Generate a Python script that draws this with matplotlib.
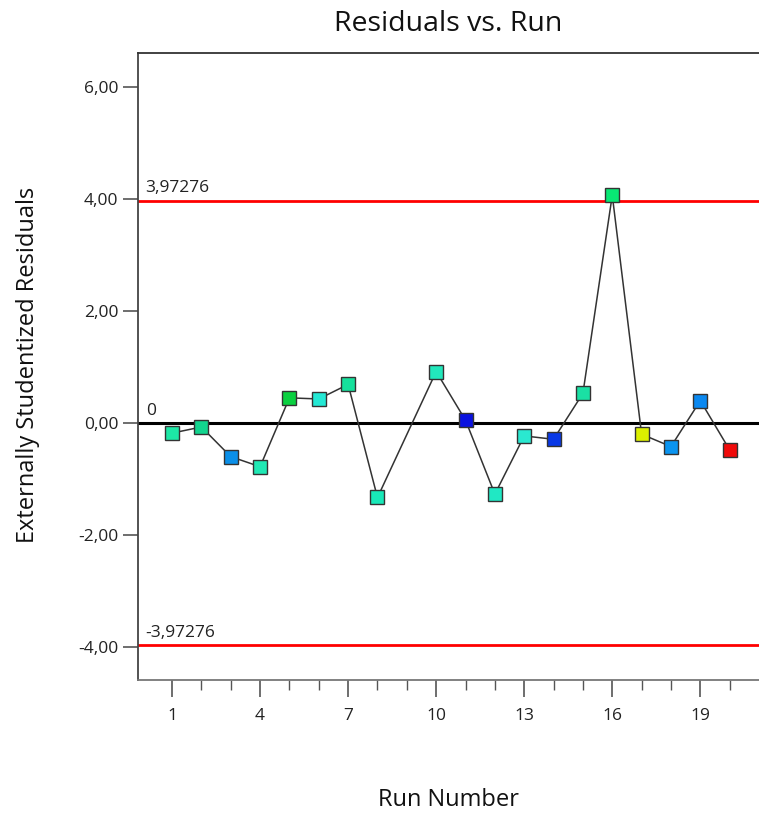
import matplotlib
matplotlib.use("Agg")
import matplotlib.pyplot as plt
from matplotlib.ticker import FixedLocator

plt.rcParams['font.family'] = ['Open Sans', 'DejaVu Sans']

runs = [1, 2, 3, 4, 5, 6, 7, 8, 10, 11, 12, 13, 14, 15, 16, 17, 18, 19, 20]
residuals = [-0.18, -0.07, -0.60, -0.78, 0.45, 0.43, 0.69, -1.33, 0.92, 0.05,
             -1.27, -0.23, -0.29, 0.53, 4.07, -0.20, -0.42, 0.40, -0.48]
colors = ['#1de8a6', '#12d48e', '#0a8fe8', '#20e8b4', '#0ad040', '#24e8d4',
          '#16e09c', '#18e8b8', '#22e8bc', '#0a12e0', '#20e8c4', '#2ae8d0',
          '#0838e6', '#1ae0a4', '#08e874', '#dcf000', '#0a94f0', '#0a88f0',
          '#f00a0a']
limit = 3.97276
limit_labels = ['3,97276', '0', '-3,97276']
yticks = [-4, -2, 0, 2, 4, 6]
ytick_labels = ['-4,00', '-2,00', '0,00', '2,00', '4,00', '6,00']
xticks = [1, 4, 7, 10, 13, 16, 19]

fig = plt.figure(figsize=(7.59, 8.14), dpi=100)
ax = fig.add_axes([138/759, 1-680/814, 1-138/759, (680-53)/814])

ax.axhline(limit, color='#ff0000', lw=2, zorder=1)
ax.axhline(-limit, color='#ff0000', lw=2, zorder=1)
ax.axhline(0, color='black', lw=2.2, zorder=1)

ax.plot(runs, residuals, color='#333333', lw=1.1, zorder=2)
for xv, yv, c in zip(runs, residuals, colors):
    ax.plot([xv], [yv], marker='s', ms=10, mfc=c, mec='#333333', mew=1.0,
            ls='none', zorder=3)

for yv, lab in zip([limit, 0, -limit], limit_labels):
    ax.text(0.1, yv + 0.08, lab, fontsize=12.5, color='#222222',
            ha='left', va='bottom')

ax.set_xlim(-0.16, 21.0)
ax.set_ylim(-4.59, 6.61)

ax.yaxis.set_major_locator(FixedLocator(yticks))
ax.set_yticklabels(ytick_labels)
ax.xaxis.set_major_locator(FixedLocator(xticks))
ax.set_xticklabels([str(v) for v in xticks])
ax.xaxis.set_minor_locator(FixedLocator(list(range(1, 21))))

ax.tick_params(axis='y', which='major', length=11, width=1.2, color='#555555',
               labelsize=12.5, labelcolor='#222222', pad=3)
ax.tick_params(axis='x', which='major', length=12, width=1.2, color='#555555',
               labelsize=12.5, labelcolor='#222222', pad=8)
ax.tick_params(axis='x', which='minor', length=7, width=1.0, color='#555555')

ax.spines['right'].set_visible(False)
ax.spines['top'].set_color('#333333')
ax.spines['top'].set_linewidth(1.3)
ax.spines['left'].set_color('#444444')
ax.spines['left'].set_linewidth(1.3)
ax.spines['bottom'].set_color('#777777')
ax.spines['bottom'].set_linewidth(1.3)

fig.text(448/759, 1-24/814, 'Residuals vs. Run', ha='center', va='center',
         fontsize=20.5, color='#111111')
fig.text(449/759, 1-800/814, 'Run Number', ha='center', va='center',
         fontsize=17, color='#111111')
fig.text(28/759, 1-365/814, 'Externally Studentized Residuals', ha='center',
         va='center', rotation=90, fontsize=17, color='#111111')

fig.savefig('out.png', dpi=100)
